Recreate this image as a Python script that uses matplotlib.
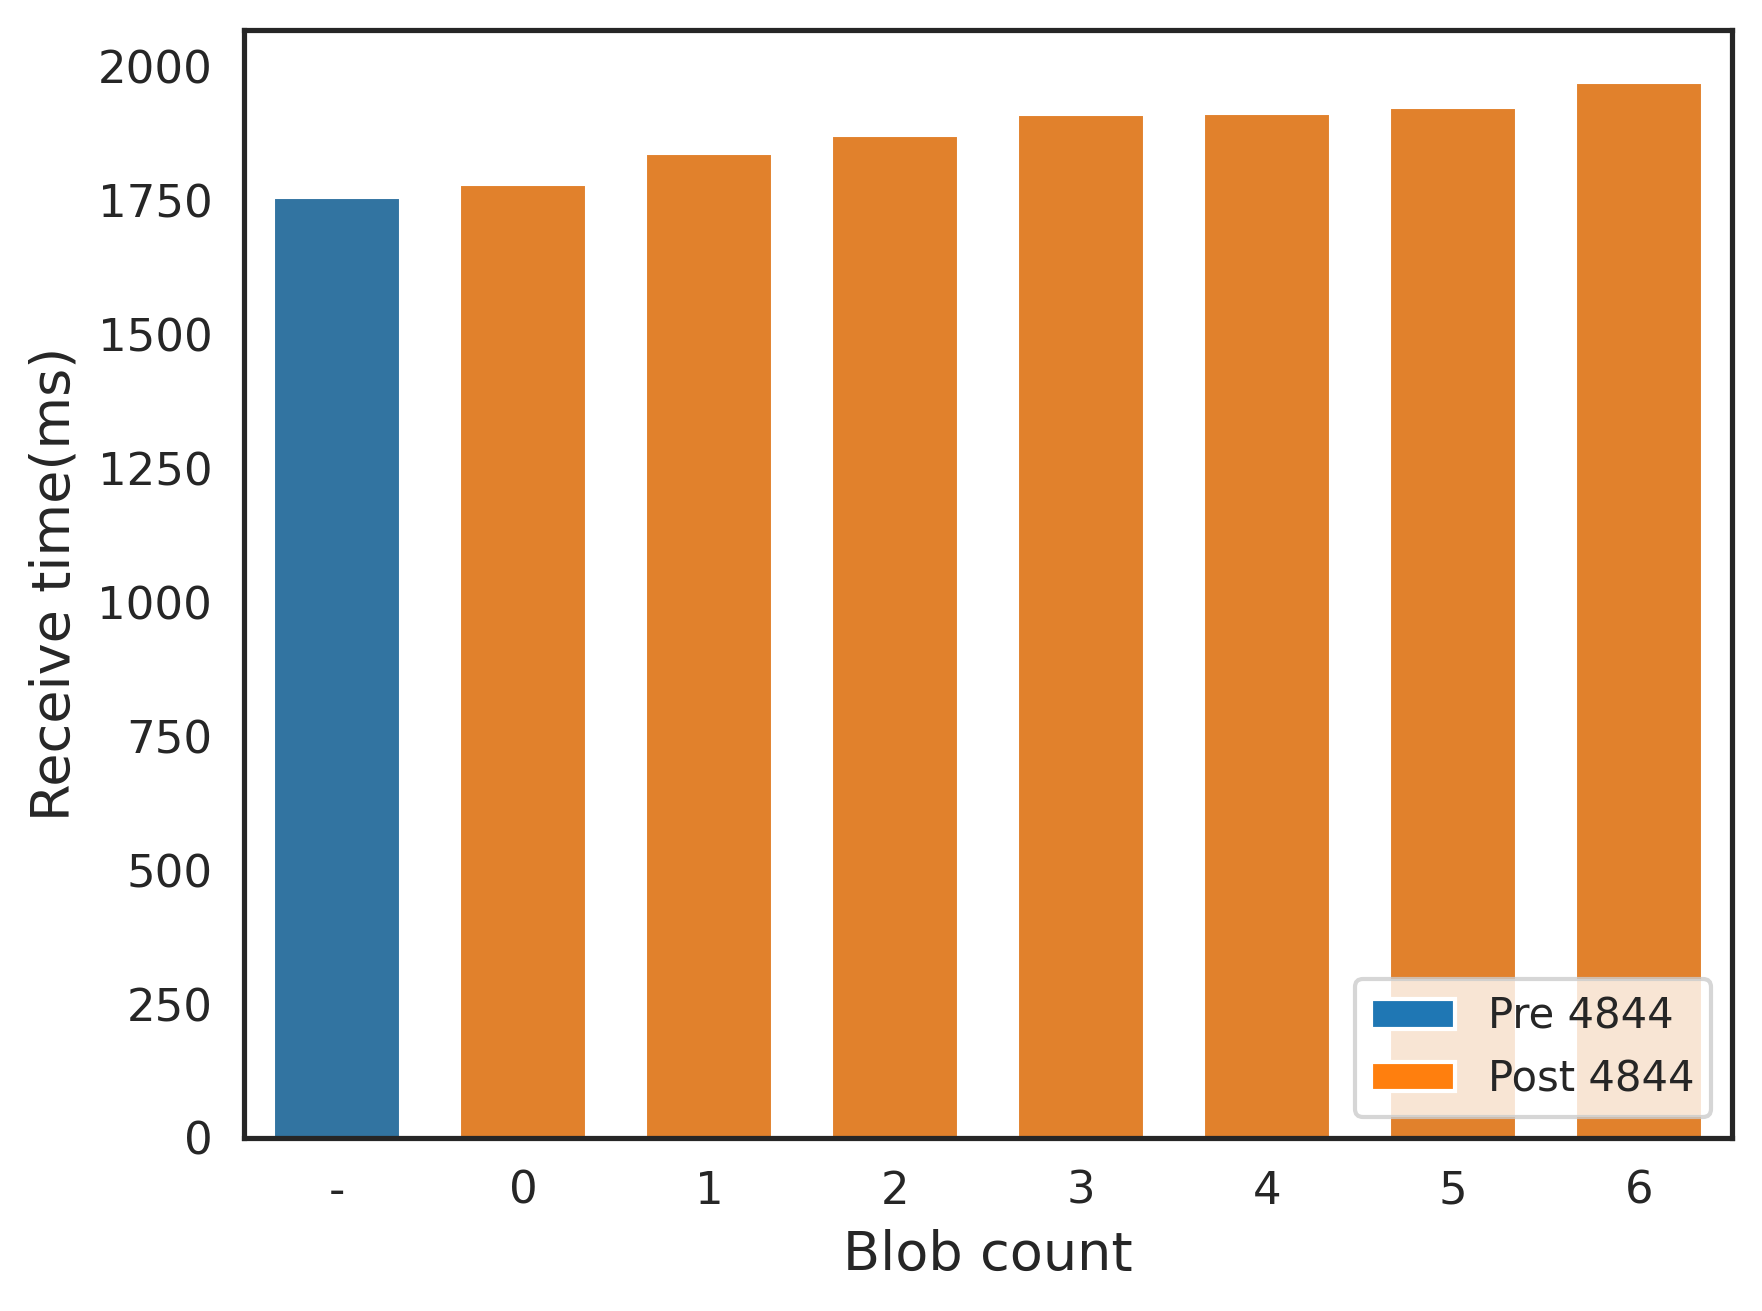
import matplotlib
matplotlib.use("Agg")
import matplotlib.pyplot as plt
import matplotlib.patches as mpatches
import seaborn as sns

categories = ["-", "0", "1", "2", "3", "4", "5", "6"]
receive_ms = [1755, 1780, 1838, 1871, 1910, 1912, 1924, 1970]
group = ["Pre 4844", "Post 4844", "Post 4844", "Post 4844", "Post 4844",
         "Post 4844", "Post 4844", "Post 4844"]
legend_labels = ["Pre 4844", "Post 4844"]

sns.set_theme(style="white")
plt.rcParams['font.family'] = ['DejaVu Sans']

bar_colors = {"Pre 4844": "#3274a1", "Post 4844": "#e1812c"}
legend_colors = {"Pre 4844": "#1f77b4", "Post 4844": "#ff7f0e"}

fig = plt.figure(figsize=(1762 / 300, 1311 / 300), dpi=300)
ax = fig.add_axes([0.1385, 0.132, 0.983 - 0.1385, 0.977 - 0.132])

x = list(range(len(categories)))
ax.bar(x, receive_ms, width=0.68, color=[bar_colors[g] for g in group],
       edgecolor="white", linewidth=0.5)
ax.set_xticks(x)
ax.set_xticklabels(categories)
ax.set_xlim(-0.5, len(categories) - 0.5)
ax.set_yticks([0, 250, 500, 750, 1000, 1250, 1500, 1750, 2000])
ax.tick_params(labelsize=10.8, length=0, pad=7.6)

ax.set_xlabel("Blob count", fontsize=13)
ax.set_ylabel("Receive time(ms)", fontsize=13)

handles = [mpatches.Patch(facecolor=legend_colors[l], edgecolor="white", label=l)
           for l in legend_labels]
ax.legend(handles=handles, loc="lower right", fontsize=10)

fig.savefig("out.png", dpi=300)
